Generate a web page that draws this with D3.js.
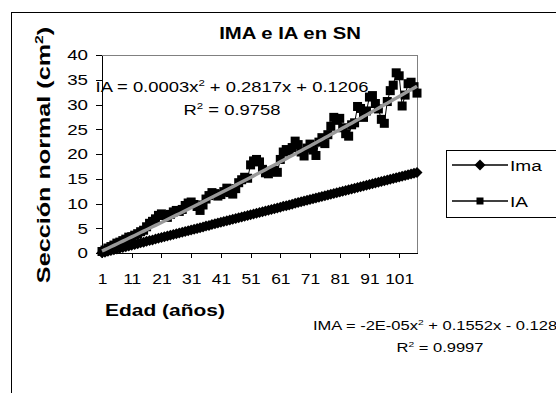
<!DOCTYPE html>
<html lang="es">
<head>
<meta charset="UTF-8">
<title>IMA e IA en SN</title>
<script src="https://cdn.jsdelivr.net/npm/d3@7"></script>
<style>
  body { margin: 0; background: #fff; }
  svg { display: block; font-family: "Liberation Sans", Arial, sans-serif; }
  .axis path, .axis line { stroke: #000; shape-rendering: crispEdges; }
</style>
</head>
<body>
<svg width="556" height="393"></svg>
<script>
// edades 1..107 (eje de categorias)
const edades = d3.range(1, 108);
const xTicks = [1, 11, 21, 31, 41, 51, 61, 71, 81, 91, 101];
const yTicks = [0, 5, 10, 15, 20, 25, 30, 35, 40];

// incremento medio anual (cm2)
const ima = [
  0.05, 0.17, 0.33, 0.50, 0.64, 0.81, 0.95, 1.12, 1.26, 1.43,
  1.57, 1.74, 1.88, 2.05, 2.19, 2.36, 2.51, 2.65, 2.82, 2.96,
  3.13, 3.27, 3.43, 3.58, 3.73, 3.89, 4.04, 4.20, 4.35, 4.51,
  4.66, 4.81, 4.97, 5.12, 5.27, 5.43, 5.58, 5.74, 5.89, 6.04,
  6.20, 6.35, 6.50, 6.66, 6.81, 6.96, 7.12, 7.27, 7.43, 7.58,
  7.73, 7.88, 8.04, 8.19, 8.35, 8.50, 8.65, 8.80, 8.96, 9.11,
  9.26, 9.42, 9.57, 9.72, 9.87, 10.03, 10.18, 10.33, 10.48, 10.64,
  10.79, 10.94, 11.09, 11.25, 11.40, 11.55, 11.70, 11.85, 12.01, 12.16,
  12.31, 12.46, 12.61, 12.77, 12.92, 13.07, 13.22, 13.37, 13.52, 13.67,
  13.82, 13.98, 14.13, 14.28, 14.43, 14.58, 14.73, 14.88, 15.03, 15.18,
  15.33, 15.48, 15.64, 15.79, 15.94, 16.09, 16.24
];

// incremento anual (cm2)
const ia = [
  0.3, 0.6, 1.0, 1.3, 1.6, 2.0, 2.2, 2.5, 2.8, 3.2,
  3.3, 3.6, 3.9, 4.3, 4.6, 5.3, 6.0, 6.4, 6.9, 7.6,
  7.9, 7.6, 7.2, 7.8, 8.3, 8.6, 8.4, 8.8, 9.6, 10.1,
  10.3, 9.8, 9.4, 8.6, 9.7, 10.9, 11.6, 12.2, 12.0, 11.5,
  11.8, 12.4, 13.1, 12.2, 11.9, 13.0, 14.2, 14.8, 15.3, 15.1,
  17.8, 18.6, 18.9, 18.4, 16.9, 16.2, 16.0, 16.5, 16.7, 16.3,
  18.9, 20.4, 20.9, 20.6, 21.3, 22.6, 21.9, 20.4, 19.6, 21.2,
  22.0, 20.8, 19.7, 22.4, 23.3, 22.1, 23.9, 25.6, 27.4, 26.8,
  27.2, 25.3, 24.1, 23.6, 25.9, 26.3, 29.6, 29.2, 27.4, 28.7,
  31.5, 31.8, 30.2, 29.1, 27.0, 26.2, 30.6, 32.8, 33.9, 36.4,
  35.8, 29.7, 31.9, 34.2, 34.5, 33.6, 32.3
];

// coeficientes de las lineas de tendencia (a x^2 + b x + c)
const imaFit = [-0.00002, 0.1552, -0.1286];
const iaFit = [0.0003, 0.2817, 0.1206];

const svg = d3.select("svg");
const SX = 1.27; // el texto del original es mas ancho que Arial

svg.append("rect").attr("x", 11.5).attr("y", 12.5)
  .attr("width", 700).attr("height", 500)
  .attr("fill", "#fff").attr("stroke", "#000");

const x = d3.scaleLinear().domain([1, 107]).range([102, 417]);
const y = d3.scaleLinear().domain([0, 40]).range([253, 55]);

// borde gris del area de trazado
svg.append("path")
  .attr("d", `M${x(1)},${y(40)}H${x(107)}V${y(0)}`)
  .attr("fill", "none").attr("stroke", "#808080").attr("stroke-width", 1)
  .attr("shape-rendering", "crispEdges");

// texto con superindices: partes string o {sup: "2"}
function label(g, px, py, parts, size, weight, anchor, rot, sx) {
  const t = g.append("text")
    .attr("transform", `translate(${px},${py})` + (rot ? ` rotate(${rot})` : "") + ` scale(${sx || SX},1)`)
    .attr("text-anchor", anchor)
    .attr("font-size", size)
    .attr("font-weight", weight)
    .attr("fill", "#000");
  parts.forEach(p => {
    if (typeof p === "object") {
      t.append("tspan").attr("dy", -size * 0.4).attr("font-size", size * 0.62).text(p.sup);
      t.append("tspan").attr("dy", size * 0.4).text("\u200b");
    } else {
      t.append("tspan").text(p);
    }
  });
  return t;
}

// ejes
const yAxis = svg.append("g").attr("class", "axis")
  .attr("transform", `translate(${x(1)},0)`)
  .call(d3.axisLeft(y).tickValues(yTicks).tickSize(6).tickSizeOuter(0));
yAxis.selectAll("text")
  .attr("x", -14 / 1.25).attr("transform", "scale(1.25,1)")
  .attr("font-size", 15).attr("fill", "#000")
  .attr("font-family", "Liberation Sans, Arial, sans-serif");

const xAxis = svg.append("g").attr("class", "axis")
  .attr("transform", `translate(0,${y(0)})`)
  .call(d3.axisBottom(x).tickValues(xTicks).tickSize(5).tickSizeOuter(0).tickPadding(16));
xAxis.selectAll("text")
  .attr("transform", "scale(1.2,1)")
  .attr("font-size", 14.5).attr("fill", "#000")
  .attr("font-family", "Liberation Sans, Arial, sans-serif");

// series
const line = d3.line().x((d, i) => x(edades[i])).y(d => y(d));
const trend = c => edades.map(e => c[0] * e * e + c[1] * e + c[2]);
const diamond = r => `M0,${-r}L${r},0L0,${r}L${-r},0Z`;

svg.append("path").datum(ima).attr("d", line)
  .attr("fill", "none").attr("stroke", "#000").attr("stroke-width", 1);
svg.append("g").selectAll("path").data(ima).join("path")
  .attr("d", diamond(5.5))
  .attr("transform", (d, i) => `translate(${x(edades[i])},${y(d)})`)
  .attr("fill", "#000");

svg.append("path").datum(ia).attr("d", line)
  .attr("fill", "none").attr("stroke", "#000").attr("stroke-width", 1);
svg.append("g").selectAll("rect").data(ia).join("rect")
  .attr("x", (d, i) => x(edades[i]) - 4.5).attr("y", d => y(d) - 4.5)
  .attr("width", 9).attr("height", 9).attr("fill", "#000");

svg.append("path").datum(trend(imaFit)).attr("d", line)
  .attr("fill", "none").attr("stroke", "#000").attr("stroke-width", 1.5);
svg.append("path").datum(trend(iaFit)).attr("d", line)
  .attr("fill", "none").attr("stroke", "#999").attr("stroke-width", 3.4);

// textos
label(svg, 290, 39, ["IMA e IA en SN"], 16, "bold", "middle");
label(svg, 165, 316, ["Edad (años)"], 16.5, "bold", "middle");
label(svg, 50, 155, ["Sección normal (cm", { sup: "2" }, ")"], 18, "bold", "middle", -90, 1.4);

label(svg, 232, 92, ["IA = 0.0003x", { sup: "2" }, " + 0.2817x + 0.1206"], 14.5, "normal", "middle");
label(svg, 232, 115, ["R", { sup: "2" }, " = 0.9758"], 14.5, "normal", "middle");
label(svg, 313, 330, ["IMA = -2E-05x", { sup: "2" }, " + 0.1552x - 0.1286"], 13, "normal", "start");
label(svg, 440, 352, ["R", { sup: "2" }, " = 0.9997"], 13, "normal", "middle");

// leyenda
const leg = svg.append("g");
leg.append("rect").attr("x", 446.5).attr("y", 150.5).attr("width", 120).attr("height", 67)
  .attr("fill", "#fff").attr("stroke", "#000");
const legRows = [{ name: "Ima", cy: 165 }, { name: "IA", cy: 201 }];
legRows.forEach((r, k) => {
  leg.append("line").attr("x1", 452).attr("x2", 508).attr("y1", r.cy).attr("y2", r.cy)
    .attr("stroke", "#000").attr("stroke-width", 1.3);
  if (k === 0) {
    leg.append("path").attr("d", diamond(5.5))
      .attr("transform", `translate(480,${r.cy})`).attr("fill", "#000");
  } else {
    leg.append("rect").attr("x", 476.5).attr("y", r.cy - 3.5).attr("width", 7).attr("height", 7)
      .attr("fill", "#000");
  }
  label(leg, 510, r.cy + 6, [r.name], 15, "normal", "start");
});
</script>
</body>
</html>
